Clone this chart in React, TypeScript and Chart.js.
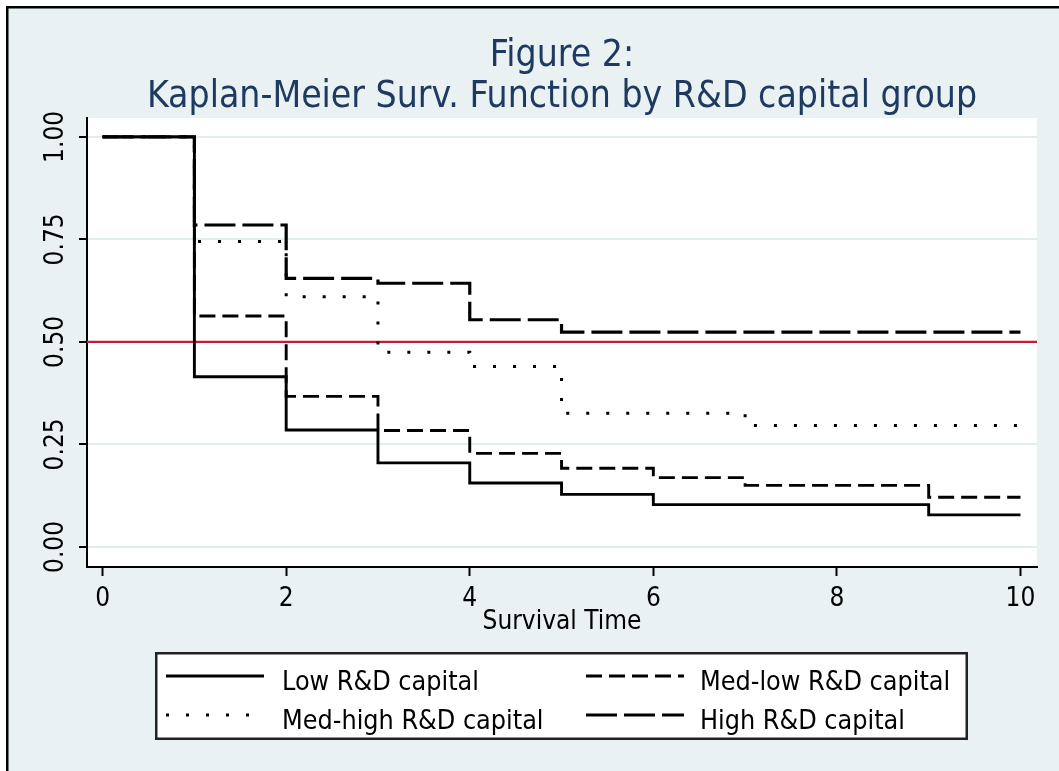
import React, { useEffect, useRef } from "react";
import { Chart, registerables } from "chart.js";

Chart.register(...registerables);

// ---- data ----
const times = [0, 1, 2, 3, 4, 5, 6, 7, 8, 9, 10];
const lowRD = [1, 0.415, 0.285, 0.205, 0.156, 0.128, 0.103, 0.103, 0.103, 0.078, 0.078];
const medLowRD = [1, 0.563, 0.367, 0.284, 0.228, 0.192, 0.169, 0.15, 0.15, 0.121, 0.121];
const medHighRD = [1, 0.745, 0.61, 0.475, 0.44, 0.326, 0.326, 0.296, 0.296, 0.296, 0.296];
const highRD = [1, 0.785, 0.655, 0.643, 0.554, 0.524, 0.524, 0.524, 0.524, 0.524, 0.524];
const seriesLabels = ["Low R&D capital", "Med-low R&D capital", "Med-high R&D capital", "High R&D capital"];
const xTickValues = [0, 2, 4, 6, 8, 10];
const yTickValues = [0, 0.25, 0.5, 0.75, 1];
const titleLines = ["Figure 2:", "Kaplan-Meier Surv. Function by R&D capital group"];
const xAxisTitle = "Survival Time";
const referenceY = 0.5;
const xRange = [-0.17, 10.18];
const yRange = [-0.049, 1.046];

// ---- styles ----
const FONT = "'DejaVu Sans Condensed', 'Liberation Sans Narrow', 'DejaVu Sans', sans-serif";
const BG = "#e9f1f3";
const GRID = "#e3edf0";
const TITLE_COLOR = "#1f3a60";
const REF_COLOR = "#c51b3b";
const lineStyles = [
  { dash: [] as number[], width: 2.9 },
  { dash: [16, 7], width: 2.9 },
  { dash: [3, 17], width: 3 },
  { dash: [31, 7], width: 3.2 },
];

const decorPlugin = {
  id: "decor",
  beforeDraw(chart: any) {
    const { ctx, width, height, chartArea } = chart;
    ctx.save();
    ctx.fillStyle = "#ffffff";
    ctx.fillRect(0, 0, width, height);
    ctx.fillStyle = BG;
    ctx.fillRect(8, 8, width - 8, height - 8);
    ctx.fillStyle = "#000";
    ctx.fillRect(6, 6, 2.5, height - 6);
    ctx.fillRect(6, 6, width - 6, 2.5);
    ctx.fillStyle = "#ffffff";
    ctx.fillRect(chartArea.left, chartArea.top, chartArea.right - chartArea.left, chartArea.bottom - chartArea.top);
    ctx.restore();
  },
  beforeDatasetsDraw(chart: any) {
    const { ctx, chartArea } = chart;
    const y = chart.scales.y.getPixelForValue(referenceY);
    ctx.save();
    ctx.strokeStyle = REF_COLOR;
    ctx.lineWidth = 2.2;
    ctx.beginPath();
    ctx.moveTo(chartArea.left, y);
    ctx.lineTo(chartArea.right, y);
    ctx.stroke();
    ctx.restore();
  },
  afterDraw(chart: any) {
    const { ctx, chartArea } = chart;
    const cx = (chartArea.left + chartArea.right) / 2;
    ctx.save();
    // title
    ctx.fillStyle = TITLE_COLOR;
    ctx.font = `37px ${FONT}`;
    ctx.textAlign = "center";
    ctx.textBaseline = "alphabetic";
    ctx.fillText(titleLines[0], cx, 66);
    ctx.fillText(titleLines[1], cx, 107);

    // y tick labels (rotated)
    ctx.fillStyle = "#000";
    ctx.font = `26px ${FONT}`;
    yTickValues.forEach((v) => {
      const py = chart.scales.y.getPixelForValue(v);
      ctx.save();
      ctx.translate(63, py);
      ctx.rotate(-Math.PI / 2);
      ctx.textAlign = "center";
      ctx.textBaseline = "alphabetic";
      ctx.fillText(v.toFixed(2), 0, 0);
      ctx.restore();
    });

    // legend box
    const box = { left: 155, top: 652, right: 968, bottom: 740 };
    ctx.fillStyle = "#ffffff";
    ctx.fillRect(box.left, box.top, box.right - box.left, box.bottom - box.top);
    ctx.strokeStyle = "#222";
    ctx.lineWidth = 2.5;
    ctx.strokeRect(box.left + 1.25, box.top + 1.25, box.right - box.left - 2.5, box.bottom - box.top - 2.5);

    const colSample = [166, 586];
    const colText = [282, 700];
    const rowBase = [690, 729];
    const sampleW = 98;
    chart.data.datasets.forEach((ds: any, i: number) => {
      const col = i % 2;
      const row = Math.floor(i / 2);
      const sy = rowBase[row] - 14;
      ctx.save();
      ctx.strokeStyle = "#000";
      ctx.lineWidth = ds.borderWidth;
      ctx.setLineDash(ds.borderDash || []);
      ctx.lineCap = "butt";
      ctx.beginPath();
      ctx.moveTo(colSample[col], sy);
      ctx.lineTo(colSample[col] + sampleW, sy);
      ctx.stroke();
      ctx.restore();
      ctx.fillStyle = "#000";
      ctx.font = `26.7px ${FONT}`;
      ctx.textAlign = "left";
      ctx.textBaseline = "alphabetic";
      ctx.fillText(ds.label, colText[col], rowBase[row]);
    });
    ctx.restore();
  },
};

export default function App() {
  const canvasRef = useRef<HTMLCanvasElement | null>(null);

  useEffect(() => {
    const canvas = canvasRef.current;
    if (!canvas) return;
    const allSeries = [lowRD, medLowRD, medHighRD, highRD];
    const chart = new Chart(canvas, {
      type: "line",
      data: {
        datasets: allSeries.map((vals, i) => ({
          label: seriesLabels[i],
          data: times.map((t, j) => ({ x: t, y: vals[j] })),
          borderColor: "#000",
          borderWidth: lineStyles[i].width,
          borderDash: lineStyles[i].dash,
          borderCapStyle: "butt",
          borderJoinStyle: "miter",
          stepped: true,
          pointRadius: 0,
          fill: false,
          tension: 0,
        })),
      },
      options: {
        responsive: false,
        animation: false,
        devicePixelRatio: 1,
        layout: { padding: { left: 0, top: 118, right: 22, bottom: 133 } },
        plugins: {
          legend: { display: false },
          title: { display: false },
          tooltip: { enabled: false },
        },
        scales: {
          x: {
            type: "linear",
            min: xRange[0],
            max: xRange[1],
            afterBuildTicks: (scale: any) => {
              scale.ticks = xTickValues.map((value) => ({ value }));
            },
            afterFit: (scale: any) => {
              scale.height = 71;
            },
            ticks: {
              color: "#000",
              font: { family: FONT, size: 26 },
              padding: 8,
              maxRotation: 0,
              autoSkip: false,
              callback: (v: any) => String(v),
            },
            grid: {
              drawOnChartArea: false,
              drawTicks: true,
              tickLength: 9,
              tickWidth: 2,
              tickColor: "#000",
            },
            border: { display: true, color: "#000", width: 2 },
            title: {
              display: true,
              text: xAxisTitle,
              color: "#000",
              font: { family: FONT, size: 26 },
              padding: { top: 0, bottom: 0 },
            },
          },
          y: {
            type: "linear",
            min: yRange[0],
            max: yRange[1],
            afterBuildTicks: (scale: any) => {
              scale.ticks = yTickValues.map((value) => ({ value }));
            },
            afterFit: (scale: any) => {
              scale.width = 87;
            },
            ticks: { display: false },
            grid: {
              color: GRID,
              lineWidth: 2,
              drawTicks: true,
              tickLength: 8,
              tickWidth: 2,
              tickColor: "#000",
            },
            border: { display: true, color: "#000", width: 2 },
          },
        },
      },
      plugins: [decorPlugin],
    } as any);
    return () => chart.destroy();
  }, []);

  return (
    <div style={{ position: "absolute", left: 0, top: 0, width: 1059, height: 771 }}>
      <canvas ref={canvasRef} width={1059} height={771} style={{ display: "block" }} />
    </div>
  );
}
